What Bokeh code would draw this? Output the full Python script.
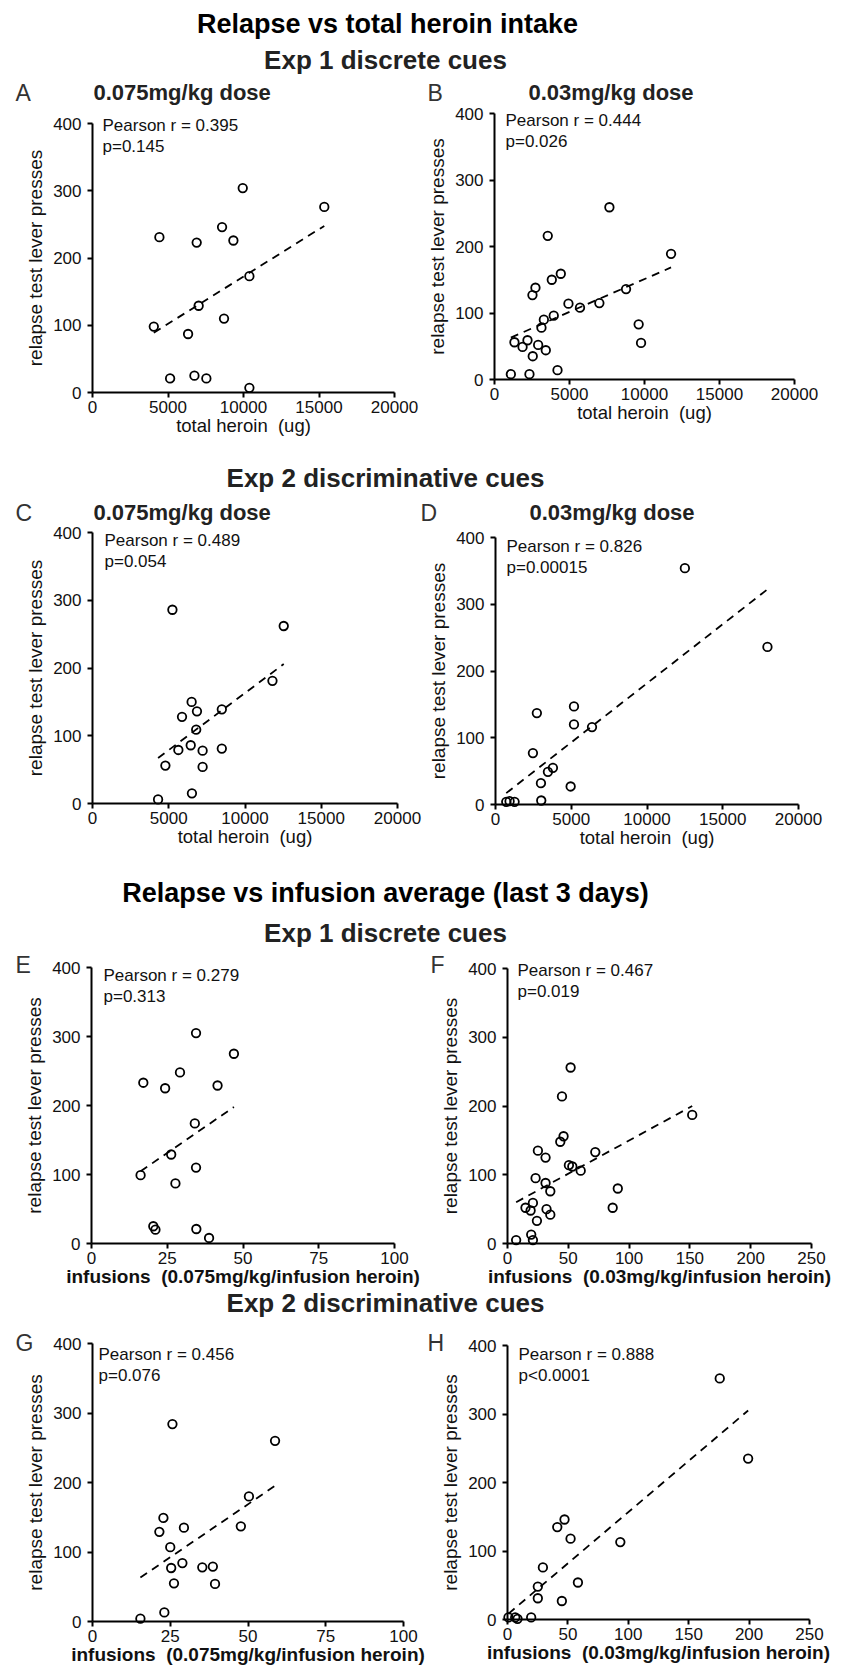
import numpy as np
from bokeh.plotting import figure
from bokeh.models import Range1d, FixedTicker, Label, LinearAxis
from bokeh.embed import file_html
from bokeh.resources import INLINE

FONT = "Liberation Sans"

# ---------------- data ----------------
y_ticks = [0, 100, 200, 300, 400]
heroin_ticks = [0, 5000, 10000, 15000, 20000]
inf075_ticks = [0, 25, 50, 75, 100]
inf03_ticks = [0, 50, 100, 150, 200, 250]

# A: Exp 1, 0.075 mg/kg, total heroin
a_x = [4430, 4060, 5140, 6330, 6750, 6900, 7030, 7540, 8580, 8710, 9330, 9950, 10390, 10390, 15350]
a_y = [231, 98, 21, 87, 25, 223, 129, 21, 246, 110, 226, 304, 173, 7, 276]
# B: Exp 1, 0.03 mg/kg, total heroin
b_x = [1090, 1330, 1870, 2200, 2330, 2530, 2730, 2550, 2910, 3130, 3290, 3420, 3550, 3820, 3950,
       4200, 4420, 4930, 5700, 6990, 7660, 8770, 9610, 9770, 11770]
b_y = [8, 56, 49, 59, 8, 127, 138, 35, 52, 78, 90, 44, 216, 150, 96,
       14, 159, 114, 108, 115, 259, 136, 83, 55, 189]
# C: Exp 2, 0.075 mg/kg, total heroin
c_x = [4300, 4780, 5240, 5630, 5870, 6440, 6500, 6520, 6850, 6800, 7220, 7220, 8480, 8480, 11800, 12540]
c_y = [6, 56, 286, 79, 128, 86, 150, 15, 136, 109, 78, 54, 139, 81, 181, 262]
# D: Exp 2, 0.03 mg/kg, total heroin
d_x = [710, 930, 1260, 2470, 2730, 3000, 3020, 3460, 3790, 4960, 5180, 5180, 6370, 12500, 17950]
d_y = [4, 5, 4, 77, 137, 32, 6, 49, 55, 27, 147, 120, 116, 354, 236]
# E: Exp 1, infusions 0.075
e_x = [16.2, 17.1, 20.4, 21.1, 24.3, 26.3, 27.7, 29.2, 34.1, 34.5, 34.5, 34.6, 38.8, 41.6, 47.0]
e_y = [99, 233, 25, 20, 225, 129, 87, 248, 174, 305, 110, 21, 8, 229, 275]
# F: Exp 1, infusions 0.03
f_x = [7.1, 14.8, 19.0, 20.9, 19.5, 20.9, 23.1, 24.2, 25.0, 31.3, 31.3, 32.1, 35.2, 35.2, 43.4,
       44.8, 46.1, 50.5, 51.9, 53.3, 60.2, 72.2, 86.5, 90.7, 151.9]
f_y = [5, 52, 48, 59, 13, 5, 95, 33, 135, 125, 88, 50, 76, 42, 148,
       214, 156, 114, 256, 112, 106, 133, 52, 80, 187]
# G: Exp 2, infusions 0.075
g_x = [15.4, 21.5, 22.8, 23.1, 25.0, 25.3, 25.7, 26.2, 28.9, 29.4, 35.3, 38.7, 39.4, 47.7, 50.3, 58.7]
g_y = [4, 129, 149, 13, 107, 77, 284, 55, 84, 135, 78, 79, 54, 137, 180, 260]
# H: Exp 2, infusions 0.03
h_x = [0.8, 6.4, 8.3, 19.6, 25.1, 25.1, 29.3, 41.2, 45.0, 47.2, 52.2, 58.3, 93.4, 175.7, 199.2]
h_y = [3, 3, 1, 3, 31, 48, 76, 135, 27, 146, 118, 54, 113, 352, 235]

stats = {
    "A": ["Pearson r = 0.395", "p=0.145"],
    "B": ["Pearson r = 0.444", "p=0.026"],
    "C": ["Pearson r = 0.489", "p=0.054"],
    "D": ["Pearson r = 0.826", "p=0.00015"],
    "E": ["Pearson r = 0.279", "p=0.313"],
    "F": ["Pearson r = 0.467", "p=0.019"],
    "G": ["Pearson r = 0.456", "p=0.076"],
    "H": ["Pearson r = 0.888", "p<0.0001"],
}

YLAB = "relapse test lever presses"
XLAB_TOT = "total heroin\u00a0 (ug)"
XLAB_075 = "infusions\u00a0 (0.075mg/kg/infusion heroin)"
XLAB_03 = "infusions\u00a0 (0.03mg/kg/infusion heroin)"

W, H = 847, 1668
LABEL_DY = -8  # labels draw a little lower than their anchor; compensate

p = figure(width=W, height=H, x_range=Range1d(0, W), y_range=Range1d(H, 0),
           output_backend="svg", toolbar_location=None, x_axis_type=None, y_axis_type=None,
           min_border=0, outline_line_color=None)
p.title.visible = False


def text(t, sx, sy, size, bold=False, color="#111111", align="left"):
    p.add_layout(Label(x=sx, y=sy + LABEL_DY, text=t, text_font=FONT, text_font_size=size,
                       text_font_style="bold" if bold else "normal", text_color=color,
                       text_align=align, text_baseline="alphabetic"))


def style_axis(ax):
    ax.axis_line_width = 2
    ax.axis_line_color = "black"
    ax.major_tick_line_width = 2
    ax.major_tick_line_color = "black"
    ax.major_tick_in = 0
    ax.major_tick_out = 5
    ax.minor_tick_line_color = None
    ax.major_label_text_font = FONT
    ax.major_label_text_font_size = "17px"
    ax.major_label_text_color = "#111111"
    ax.axis_label_text_font = FONT
    ax.axis_label_text_color = "#111111"


def panel(name, X0, X1, Y4, Y0, xmax, xticks, xs, ys, xlabel, xbold,
          letter, letter_pos, st, st_pos, title=None, title_pos=None, xlab_standoff=-1):
    kx = xmax / (X1 - X0)
    ky = 400 / (Y0 - Y4)
    nx, ny = name + "_x", name + "_y"
    p.extra_x_ranges = {**p.extra_x_ranges, nx: Range1d(-X0 * kx, (W - X0) * kx)}
    p.extra_y_ranges = {**p.extra_y_ranges, ny: Range1d((Y0 - H) * ky, Y0 * ky)}

    xa = LinearAxis(x_range_name=nx, y_range_name=ny, fixed_location=0, bounds=(0, xmax),
                    ticker=FixedTicker(ticks=xticks), axis_label=xlabel)
    style_axis(xa)
    xa.major_label_standoff = 3
    xa.axis_label_text_font_size = "19px" if xbold else "18.5px"
    xa.axis_label_text_font_style = "bold" if xbold else "normal"
    xa.axis_label_standoff = xlab_standoff
    p.add_layout(xa, "below")

    ya = LinearAxis(x_range_name=nx, y_range_name=ny, fixed_location=0, bounds=(0, 400),
                    ticker=FixedTicker(ticks=y_ticks), axis_label=YLAB)
    style_axis(ya)
    ya.major_label_standoff = 6
    ya.axis_label_text_font_size = "19px"
    ya.axis_label_text_font_style = "normal"
    ya.axis_label_standoff = 4
    p.add_layout(ya, "left")

    # regression line computed from the points
    xarr = np.array(xs, dtype=float)
    yarr = np.array(ys, dtype=float)
    k, b = np.polyfit(xarr, yarr, 1)
    lx = np.array([xarr.min(), xarr.max()])
    p.line(lx, k * lx + b, line_dash="8 6", line_width=1.8, line_color="black",
           x_range_name=nx, y_range_name=ny)
    p.scatter(xs, ys, marker="circle", size=8.5, line_color="black", line_width=1.8,
              fill_color=None, x_range_name=nx, y_range_name=ny)

    sx, sb = st_pos
    for i, t in enumerate(st):
        text(t, sx, sb + 21 * i, "17px")
    text(letter, letter_pos[0], letter_pos[1], "23px", color="#333333")
    if title:
        text(title, title_pos[0], title_pos[1], "22px", bold=True, color="#222222")


# headings
text("Relapse vs total heroin intake", 387, 31, "27px", True, "#000000", "center")
text("Exp 1 discrete cues", 385, 67, "26px", True, "#222222", "center")
text("Exp 2 discriminative cues", 385, 485, "26px", True, "#222222", "center")
text("Relapse vs infusion average (last 3 days)", 385, 900, "27px", True, "#000000", "center")
text("Exp 1 discrete cues", 385, 940, "26px", True, "#222222", "center")
text("Exp 2 discriminative cues", 385, 1310, "26px", True, "#222222", "center")

panel("A", 92, 394, 123, 392, 20000, heroin_ticks, a_x, a_y, XLAB_TOT, False,
      "A", (15, 100), stats["A"], (102, 133), "0.075mg/kg dose", (93, 100))
panel("B", 494, 794, 113, 379, 20000, heroin_ticks, b_x, b_y, XLAB_TOT, False,
      "B", (427, 100), stats["B"], (505, 128), "0.03mg/kg dose", (528, 100))
panel("C", 92, 397, 532, 803, 20000, heroin_ticks, c_x, c_y, XLAB_TOT, False,
      "C", (15, 520), stats["C"], (104, 548), "0.075mg/kg dose", (93, 520))
panel("D", 495, 798, 537, 804, 20000, heroin_ticks, d_x, d_y, XLAB_TOT, False,
      "D", (420, 520), stats["D"], (506, 554), "0.03mg/kg dose", (529, 520))
panel("E", 91, 394, 967, 1243, 100, inf075_ticks, e_x, e_y, XLAB_075, True,
      "E", (15, 972), stats["E"], (103, 983))
panel("F", 507, 811, 968, 1243, 250, inf03_ticks, f_x, f_y, XLAB_03, True,
      "F", (430, 972), stats["F"], (517, 978))
panel("G", 92, 403, 1343, 1621, 100, inf075_ticks, g_x, g_y, XLAB_075, True,
      "G", (15, 1350), stats["G"], (98, 1362))
panel("H", 507, 809, 1345, 1619, 250, inf03_ticks, h_x, h_y, XLAB_03, True,
      "H", (427, 1350), stats["H"], (518, 1362))

open("out.html", "w").write(file_html(p, INLINE))
